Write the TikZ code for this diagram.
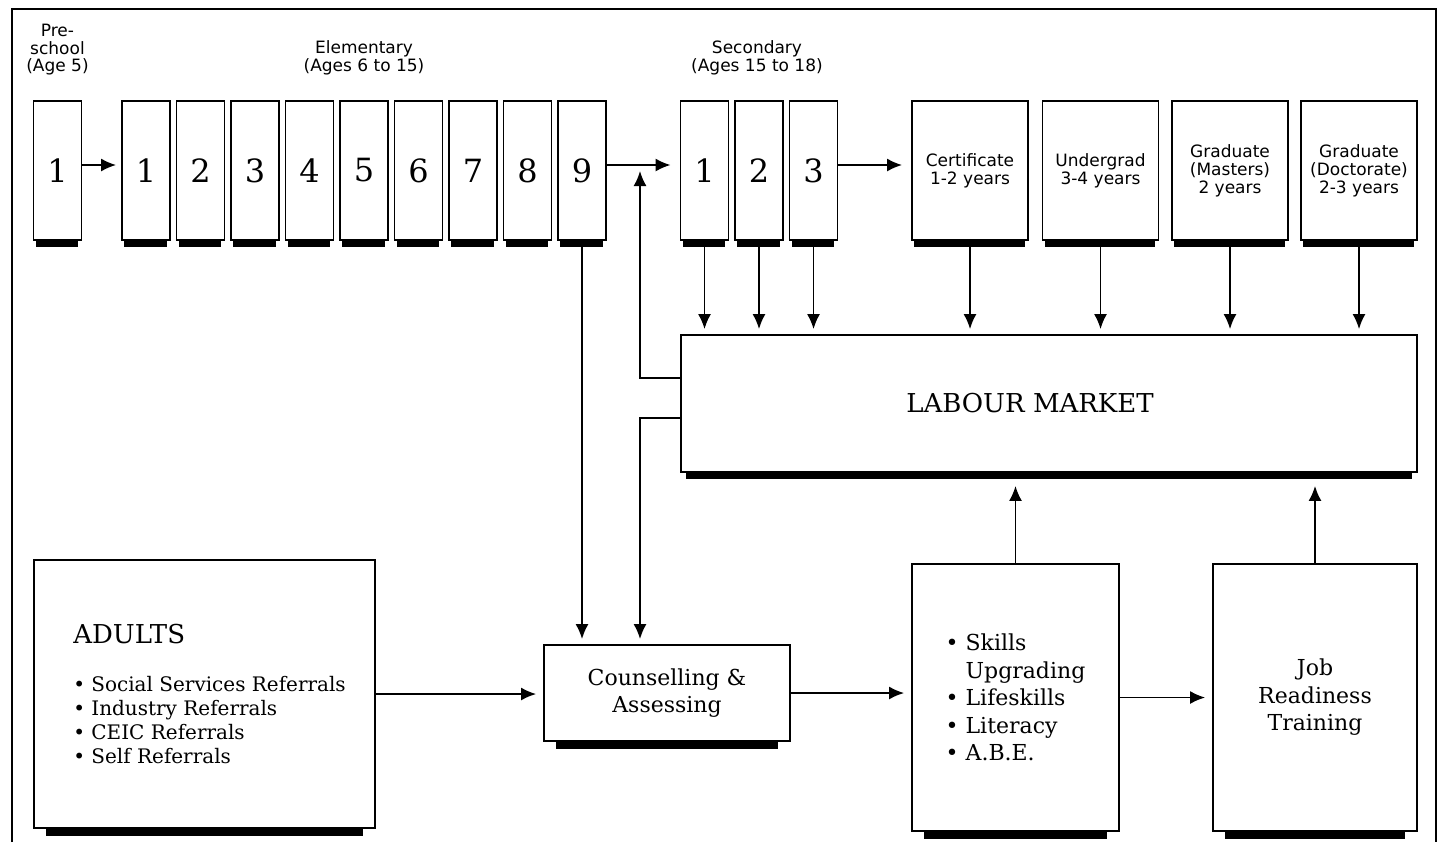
\documentclass[tikz,border=0pt]{standalone}
\usepackage{fontspec}
\setmainfont{DejaVu Serif}
\setsansfont{DejaVu Sans}
\usetikzlibrary{arrows.meta}

\begin{document}
\begin{tikzpicture}[x=0.5pt,y=-0.5pt,>={Latex[length=7.5pt,width=6.5pt]},
 grade/.style={draw,line width=0.9pt,minimum width=24pt,minimum height=69.5pt,inner sep=0pt,font=\fontsize{16}{16}\selectfont},
 post/.style={draw,line width=0.9pt,minimum width=58pt,minimum height=69.5pt,inner sep=0pt,align=center,font=\sffamily\fontsize{8.5}{9}\selectfont},
 big/.style={draw,line width=0.9pt,inner sep=0pt,align=center,font=\fontsize{11}{13.75}\selectfont},
 stage/.style={align=center,inner sep=0pt,font=\sffamily\fontsize{8.5}{8.75}\selectfont},
 arr/.style={->,line width=0.9pt}]
\useasboundingbox (0,0) rectangle (1444,842);
\draw[line width=0.75pt] (12,842) |- (1436,9) -- (1436,842);

% school years
\node[stage] (prelbl) at (57.5,50) {Pre-\\school\\(Age 5)};
\node[stage] (elemlbl) at (364,58) {Elementary\\(Ages 6 to 15)};
\node[stage] (seclbl) at (757,58) {Secondary\\(Ages 15 to 18)};
\node[grade] (pre) at (57.5,170.5) {1};
\foreach \i in {1,...,9}
  \node[grade] (e\i) at ({146+(\i-1)*54.5},170.5) {\i};
\foreach \i in {1,2,3}
  \node[grade] (s\i) at ({704.5+(\i-1)*54.5},170.5) {\i};
\node[post] (cert) at (970,170.5) {Certificate\\1-2 years};
\node[post] (ugrad) at (1100.5,170.5) {Undergrad\\3-4 years};
\node[post] (mast) at (1230,170.5) {Graduate\\(Masters)\\2 years};
\node[post] (doct) at (1359,170.5) {Graduate\\(Doctorate)\\2-3 years};

% market and adult path
\node[big,minimum width=368pt,minimum height=68.5pt,font=\fontsize{13}{15}\selectfont] (lm) at (1049,403.5) {LABOUR MARKET\hspace*{19pt}};
\node[big,minimum width=170.5pt,minimum height=134pt,align=left,font=\fontsize{10}{12}\selectfont] (adults) at (204.5,694)
  {\hspace*{5pt}{\fontsize{13}{15}\selectfont ADULTS}\\[12pt]
   \hspace*{5pt}\textbullet\ Social Services Referrals\\
   \hspace*{5pt}\textbullet\ Industry Referrals\\
   \hspace*{5pt}\textbullet\ CEIC Referrals\\
   \hspace*{5pt}\textbullet\ Self Referrals};
\node[big,minimum width=123pt,minimum height=48pt] (couns) at (667,693) {Counselling \&\\Assessing};
\node[big,minimum width=103.5pt,minimum height=133.5pt,align=left] (skills) at (1015.5,697.5)
  {\textbullet\ Skills\\\hphantom{\textbullet\ }Upgrading\\\textbullet\ Lifeskills\\\textbullet\ Literacy\\\textbullet\ A.B.E.};
\node[big,minimum width=102pt,minimum height=133.5pt] (job) at (1315,697.5) {Job\\Readiness\\Training};

% shadows
\foreach \n in {pre,e1,e2,e3,e4,e5,e6,e7,e8,e9,s1,s2,s3,cert,ugrad,mast,doct}
  \fill ([xshift=1.5pt]\n.south west) rectangle ([xshift=-2pt,yshift=-3pt]\n.south east);
\fill ([xshift=3pt]lm.south west) rectangle ([xshift=-3pt,yshift=-3pt]lm.south east);
\foreach \n in {adults,couns,skills,job}
  \fill ([xshift=6.5pt]\n.south west) rectangle ([xshift=-6.5pt,yshift=-3.5pt]\n.south east);

% arrows
\draw[arr,shorten >=2.5pt] ([yshift=2.75pt]pre.east) -- ([yshift=2.75pt]e1.west);
\draw[arr,shorten >=4.5pt] ([yshift=2.75pt]e9.east) -- ([yshift=2.75pt]s1.west);
\draw[arr,shorten >=4.5pt] ([yshift=2.75pt]s3.east) -- ([yshift=2.75pt]cert.west);
\foreach \n in {s1,s2,s3,cert,ugrad,mast,doct}
  \draw[arr,shorten >=2.5pt] (\n.south) -- (\n.south |- lm.north);
\coordinate (jn) at (640,165);
\draw[arr,shorten >=3pt] ([yshift=12.75pt]lm.west) -| (jn);
\draw[arr,shorten >=2.5pt] ([yshift=-7.25pt]lm.west) -| (jn |- couns.north);
\draw[arr,shorten >=2.5pt] (e9.south) -- (e9.south |- couns.north);
\draw[arr,shorten >=3.5pt] (adults.east) -- (adults.east -| couns.west);
\draw[arr,shorten >=3.5pt] (couns.east) -- (couns.east -| skills.west);
\draw[arr,shorten >=3.5pt] (skills.east) -- (job.west);
\draw[arr,shorten >=6.5pt] (skills.north) -- (skills.north |- lm.south);
\draw[arr,shorten >=6.5pt] (job.north) -- (job.north |- lm.south);
\end{tikzpicture}
\end{document}
